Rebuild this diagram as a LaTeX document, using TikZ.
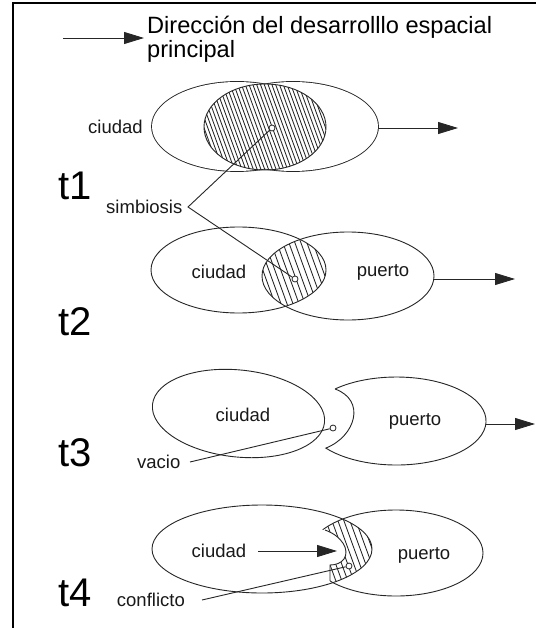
\documentclass[tikz,border=0pt]{standalone}
\usepackage{fontspec}
\setmainfont{Liberation Sans}
\usetikzlibrary{arrows.meta}
\begin{document}
\begin{tikzpicture}[x=1pt,y=-1pt]
\tikzset{
  ln/.style={line width=0.9pt, draw=black!85},
  arr/.style={line width=0.9pt, draw=black!85, -{Triangle[length=20pt,width=12pt]}},
  hatch/.style={line width=0.85pt, draw=black!85},
  lbl/.style={font=\fontsize{18.5pt}{22pt}\selectfont, inner sep=0pt, text=black!90},
  tlab/.style={font=\fontsize{40pt}{44pt}\selectfont, inner sep=0pt, anchor=base west, text=black},
  ttl/.style={font=\fontsize{23.6pt}{28pt}\selectfont, inner sep=0pt, anchor=base west, text=black},
  dotc/.style={circle, draw=black!85, line width=0.8pt, inner sep=0pt, minimum size=6pt, fill=white}
}
\useasboundingbox (0,0) rectangle (536,628);
\fill[white] (0,0) rectangle (536,628);
% frame
\draw[line width=1.6pt] (13,628) -- (13,3.3) -- (536,3.3);

% title
\node[ttl] (title1) at (147,34) {Dirección del desarrolllo espacial};
\node[ttl] (title2) at (147,58) {principal};
\coordinate (ta) at (63,38);
\coordinate (tb) at (144,38);
\draw[arr] (ta) -- (tb);

% ---------- t1 ----------
\coordinate (L1c) at (237,126.5);
\coordinate (R1c) at (293,126.5);
\coordinate (H1c) at (265,127);
\draw[line width=1.8pt, black!85] (L1c) ellipse [x radius=85pt, y radius=44.5pt];
\draw[line width=1.8pt, black!85] (R1c) ellipse [x radius=85pt, y radius=44.5pt];
\fill[white] (L1c) ellipse [x radius=85pt, y radius=44.5pt];
\fill[white] (R1c) ellipse [x radius=85pt, y radius=44.5pt];
\begin{scope}
  \clip (H1c) ellipse [x radius=61pt, y radius=43pt];
  \foreach \k in {0,...,50} \draw[hatch] ({160+\k*3.8},80) -- ++(36.4,100);
\end{scope}
\draw[ln] (H1c) ellipse [x radius=61pt, y radius=43pt];
\node[dotc] (s1) at (272,128) {};
\node[lbl] (c1) at (115.5,126.5) {ciudad};
\coordinate (r1) at (378,128);
\coordinate (r1t) at (458,128);
\draw[arr] (r1) -- (r1t);
\node[tlab] (t1) at (58,200) {t1};

% ---------- t2 ----------
\coordinate (L2c) at (238.5,270);
\coordinate (R2c) at (348,276);
\begin{scope}
  \clip (L2c) ellipse [x radius=87.5pt, y radius=43pt];
  \clip (R2c) ellipse [x radius=86pt, y radius=44pt];
  \foreach \k in {0,...,22} \draw[hatch] ({225+\k*6},232) -- ++(29,80);
\end{scope}
\draw[ln] (L2c) ellipse [x radius=87.5pt, y radius=43pt];
\draw[ln] (R2c) ellipse [x radius=86pt, y radius=44pt];
\node[dotc] (s2) at (295,279) {};
\node[lbl] (c2) at (219,272) {ciudad};
\node[lbl] (p2) at (383,272) {puerto};
\coordinate (r2) at (434,279);
\coordinate (r2t) at (515,279);
\draw[arr] (r2) -- (r2t);
\node[tlab] (t2) at (58,335) {t2};

% simbiosis
\node[lbl, anchor=east] (simb) at (182.5,207) {simbiosis};
\coordinate (sv) at (188,207);
\draw[ln] (s1) -- (sv) -- (s2);

% ---------- t3 ----------
\begin{scope}[shift={(238.5,413.5)}, rotate=-6]
  \draw[ln] (0,0) ellipse [x radius=86.5pt, y radius=43.5pt];
\end{scope}
\draw[ln] (335,389) arc [start angle=133.3, end angle=-142, x radius=89.6pt, y radius=44pt]
   .. controls (356,436) and (366,400) .. (335,389);
\node[lbl] (c3) at (243,415) {ciudad};
\node[lbl] (p3) at (415,421) {puerto};
\node[dotc] (s3) at (333,428) {};
\node[lbl, anchor=east] (vac) at (180.5,462) {vacio};
\coordinate (vl) at (190,462);
\draw[ln] (vl) -- (s3);
\coordinate (r3) at (486,424);
\coordinate (r3t) at (535,424);
\draw[arr] (r3) -- (r3t);
\node[tlab] (t3) at (58,466) {t3};

% ---------- t4 ----------
\coordinate (C4c) at (262,549);
\coordinate (P4c) at (396,553);
\begin{scope}
  \clip (C4c) ellipse [x radius=110pt, y radius=44pt];
  \clip (P4c) ellipse [x radius=87pt, y radius=43pt];
  \foreach \k in {0,...,21} \draw[hatch] ({268+\k*6},510) -- ++(31,85);
\end{scope}
\draw[ln] (P4c) ellipse [x radius=87pt, y radius=43pt];
\begin{scope}
  \clip (C4c) ellipse [x radius=110pt, y radius=44pt];
  \fill[white] (325,530) .. controls (342,536) and (350,550) .. (344,559)
     .. controls (341,563) and (336,565) .. (330,565) -- (330,595) -- (270,595) -- (270,522) -- cycle;
\end{scope}
\draw[ln] (C4c) ellipse [x radius=110pt, y radius=44pt];
\begin{scope}
  \clip (C4c) ellipse [x radius=110pt, y radius=44pt];
  \clip (P4c) ellipse [x radius=87pt, y radius=43pt];
  \draw[ln] (325,530) .. controls (342,536) and (350,550) .. (344,559)
     .. controls (341,563) and (336,565) .. (330,565) -- (330,595);
\end{scope}
\node[lbl] (c4) at (219,551) {ciudad};
\node[lbl] (p4) at (424,555) {puerto};
\coordinate (a4s) at (258,551);
\coordinate (a4t) at (337,551);
\draw[arr] (a4s) -- (a4t);
\node[dotc] (s4) at (349,566) {};
\node[lbl, anchor=east] (conf) at (185,600) {conflicto};
\coordinate (cf) at (202,600);
\draw[ln] (cf) -- (s4);
\node[tlab] (t4) at (58,606) {t4};
\end{tikzpicture}
\end{document}
